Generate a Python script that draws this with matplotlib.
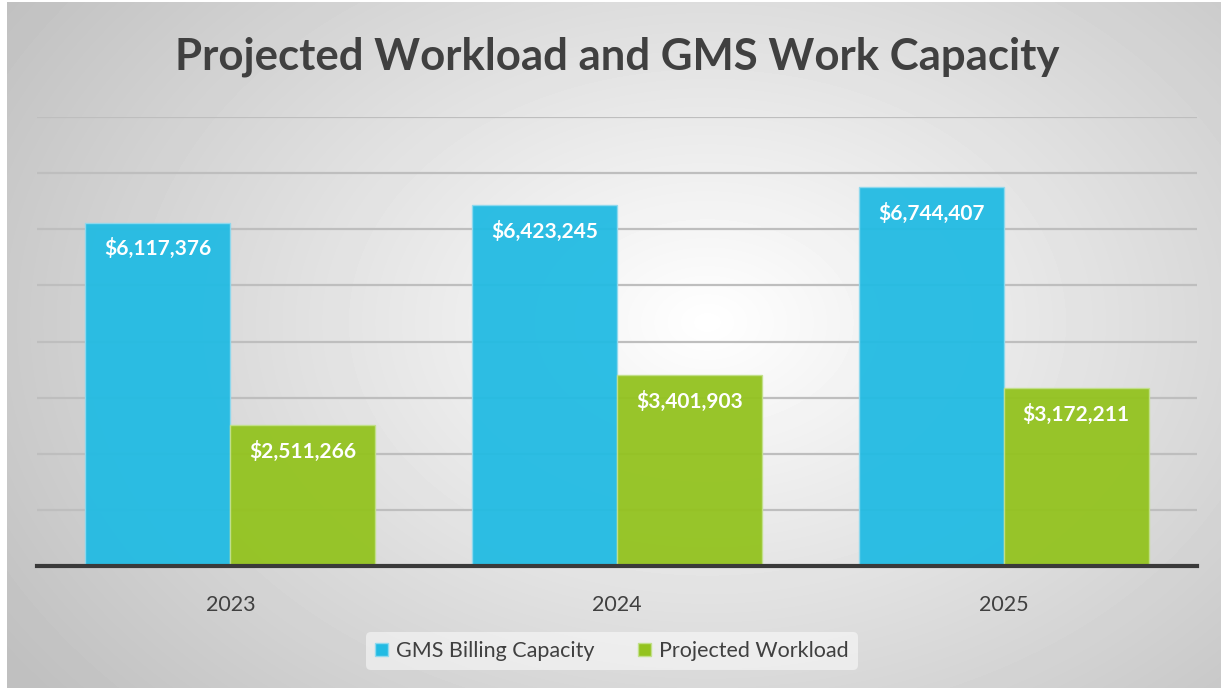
import numpy as np
import matplotlib.pyplot as plt
from matplotlib.patches import Patch

years = ["2023", "2024", "2025"]
capacity = [6117376, 6423245, 6744407]
workload = [2511266, 3401903, 3172211]
series_names = ["GMS Billing Capacity", "Projected Workload"]

blue = "#22BBE3"
green = "#93C31F"

plt.rcParams['font.family'] = ['Lato', 'DejaVu Sans']

fig = plt.figure(figsize=(12.21, 6.89), dpi=100)

# radial gradient background
bg = fig.add_axes([7/1221, 1/689, 1214/1221, 686/689], zorder=-5)
yy, xx = np.mgrid[0:686, 0:1214]
r = np.sqrt(((xx - 700) / 850.0) ** 2 + ((yy - 320) / 600.0) ** 2)
shade = 1.0 - 0.25 * np.clip(r, 0, 1) ** 1.0
bg.imshow(shade, cmap="gray", vmin=0, vmax=1, aspect="auto", interpolation="bilinear")
bg.set_axis_off()

ax = fig.add_axes([37/1221, 1 - 566/689, 1160/1221, 449/689])
ax.patch.set_alpha(0)

x = np.arange(len(years))
w = 0.375
b1 = ax.bar(x - w/2, capacity, w, color=blue, alpha=0.95, edgecolor="#8FD9EE", linewidth=1, zorder=3)
b2 = ax.bar(x + w/2, workload, w, color=green, alpha=0.95, edgecolor="#C2E08A", linewidth=1, zorder=3)

for bars, vals in [(b1, capacity), (b2, workload)]:
    for rect, v in zip(bars, vals):
        ax.annotate(f"${v:,.0f}", (rect.get_x() + rect.get_width()/2, v),
                    xytext=(0, -26), textcoords="offset pixels",
                    ha="center", va="center", color="white", fontsize=15, fontweight="bold", zorder=4)

ax.set_xlim(-0.5, 2.5)
ax.set_ylim(0, 8e6)
ax.set_yticks(np.arange(1e6, 8.5e6, 1e6))
ax.yaxis.grid(True, color="#BEBEBE", linewidth=1.6, zorder=1)
ax.set_yticklabels([])
ax.tick_params(axis="y", length=0)
ax.tick_params(axis="x", length=0, labelsize=15.5, labelcolor="#404040", pad=21)
ax.set_xticks(x)
ax.set_xticklabels(years)
for s in ["top", "right", "left"]:
    ax.spines[s].set_visible(False)
ax.spines["bottom"].set_color("#3A3A3A")
ax.spines["bottom"].set_linewidth(3)
ax.spines["bottom"].set_zorder(5)

fig.text(617/1221, 1 - 57/689, "Projected Workload and GMS Work Capacity",
         ha="center", va="center", fontsize=31.5, fontweight="bold", color="#404040")

handles = [Patch(facecolor=blue, edgecolor="#8FD9EE"), Patch(facecolor=green, edgecolor="#C2E08A")]
leg = fig.legend(handles, series_names, loc="center", bbox_to_anchor=(612/1221, 1 - 651/689),
                 ncol=2, frameon=True, fontsize=15.5, handlelength=0.6, handleheight=0.6,
                 handletextpad=0.4, columnspacing=2.0, labelcolor="#404040")
leg.get_frame().set_facecolor("white")
leg.get_frame().set_alpha(0.5)
leg.get_frame().set_edgecolor("none")

fig.savefig("out.png", dpi=100)
